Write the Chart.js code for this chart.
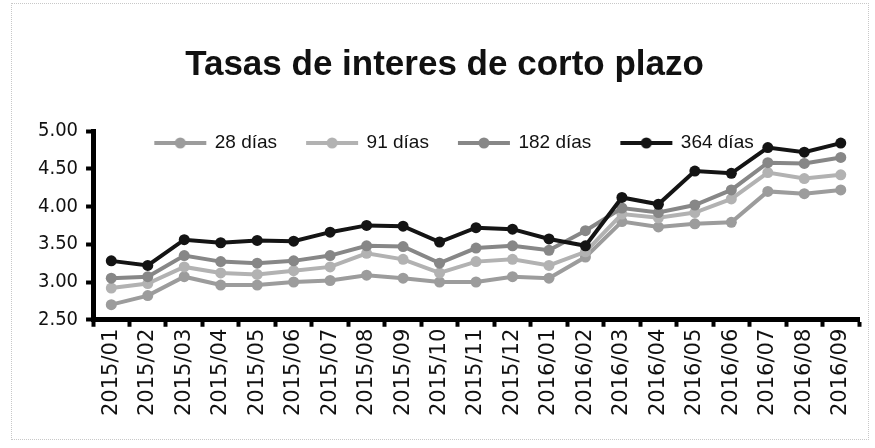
<!DOCTYPE html>
<html>
<head>
<meta charset="utf-8">
<script src="https://cdn.jsdelivr.net/npm/chart.js@4.4.1/dist/chart.umd.min.js"></script>
<style>
html,body{margin:0;padding:0;background:#fff;}
#wrap{position:relative;width:875px;height:448px;}
#frame{position:absolute;left:11px;top:3px;width:858px;height:437px;border:1px dotted #c8c8c8;box-sizing:border-box;pointer-events:none;}
canvas{display:block;}
</style>
</head>
<body>
<div id="wrap">
<canvas id="c" width="875" height="448"></canvas>
<div id="frame"></div>
</div>
<script>
const titleText = 'Tasas de interes de corto plazo';
const categories = ['2015/01','2015/02','2015/03','2015/04','2015/05','2015/06','2015/07','2015/08','2015/09','2015/10','2015/11','2015/12','2016/01','2016/02','2016/03','2016/04','2016/05','2016/06','2016/07','2016/08','2016/09'];
const seriesNames = ['28 días','91 días','182 días','364 días'];
const dias28  = [2.70,2.82,3.07,2.96,2.96,3.00,3.02,3.09,3.05,3.00,3.00,3.07,3.05,3.33,3.80,3.73,3.77,3.79,4.20,4.17,4.22];
const dias91  = [2.92,2.98,3.20,3.12,3.10,3.15,3.20,3.38,3.30,3.12,3.27,3.30,3.22,3.40,3.90,3.85,3.92,4.10,4.45,4.37,4.42];
const dias182 = [3.05,3.07,3.35,3.27,3.25,3.28,3.35,3.48,3.47,3.25,3.45,3.48,3.42,3.68,3.98,3.92,4.02,4.22,4.58,4.57,4.65];
const dias364 = [3.28,3.22,3.56,3.52,3.55,3.54,3.66,3.75,3.74,3.53,3.72,3.70,3.57,3.48,4.12,4.03,4.47,4.44,4.78,4.72,4.84];
const yTicks = [2.5,3.0,3.5,4.0,4.5,5.0];

const colors = ['#9c9c9c','#b2b2b2','#878787','#141414'];
const values = [dias28, dias91, dias182, dias364];

function legendIcon(color){
  const cv = document.createElement('canvas');
  cv.width = 80; cv.height = 14;
  const g = cv.getContext('2d');
  g.strokeStyle = color; g.lineWidth = 4;
  g.beginPath(); g.moveTo(24,7); g.lineTo(76,7); g.stroke();
  g.fillStyle = color;
  g.beginPath(); g.arc(50,7,5.5,0,Math.PI*2); g.fill();
  return cv;
}

const datasets = seriesNames.map((n,i)=>({
  label: n,
  data: values[i],
  borderColor: colors[i],
  backgroundColor: colors[i],
  borderWidth: 4,
  pointRadius: 5.5,
  pointHoverRadius: 5.5,
  pointBorderWidth: 0,
  pointStyle: 'circle',
  tension: 0,
  order: 3 - i
}));
const icons = colors.map(legendIcon);

const legendShift = {
  id: 'legendShift',
  afterLayout(chart){
    const lg = chart.legend;
    if (!lg) return;
    const pad = lg.options.labels.padding;
    const fs = lg.options.labels.font.size;
    const center = lg.top + pad + fs/2;
    const dy = (chart.chartArea.top + 12) - center;
    lg.top += dy; lg.bottom += dy;
    if (lg.legendHitBoxes) lg.legendHitBoxes.forEach(h=>{ h.top += dy; });
  }
};

new Chart(document.getElementById('c'), {
  type: 'line',
  data: { labels: categories, datasets },
  plugins: [legendShift],
  options: {
    responsive: false,
    animation: false,
    layout: { padding: { left: 30, right: 16, top: 0, bottom: 30 } },
    plugins: {
      tooltip: { enabled: false },
      title: {
        display: true,
        text: titleText,
        color: '#111',
        font: { family: "'Liberation Sans', Arial, sans-serif", size: 35, weight: 'bold' },
        padding: { top: 44, bottom: 6 }
      },
      legend: {
        position: 'top',
        align: 'center',
        labels: {
          usePointStyle: true,
          pointStyleWidth: 70,
          generateLabels(chart){
            return chart.data.datasets.map((d,i)=>({
              text: d.label,
              pointStyle: icons[i],
              fillStyle: d.borderColor,
              strokeStyle: d.borderColor,
              lineWidth: 0,
              fontColor: '#111',
              datasetIndex: i,
              hidden: false
            }));
          },
          color: '#111',
          font: { family: "'Liberation Sans', Arial, sans-serif", size: 19 },
          padding: 10,
          boxHeight: 14
        }
      }
    },
    scales: {
      x: {
        offset: true,
        grid: { offset: true, drawOnChartArea: false, drawTicks: true, tickLength: 7, tickWidth: 4, tickColor: '#000' },
        border: { display: true, color: '#000', width: 5 },
        ticks: {
          color: '#111',
          minRotation: 90, maxRotation: 90,
          autoSkip: false,
          padding: 2,
          font: { family: "'DejaVu Sans', Verdana, sans-serif", size: 21 }
        }
      },
      y: {
        min: 2.5, max: 5.0,
        afterBuildTicks(ax){ ax.ticks = yTicks.map(v=>({value:v})); },
        grid: { drawOnChartArea: false, drawTicks: true, tickLength: 7, tickWidth: 4, tickColor: '#000' },
        border: { display: true, color: '#000', width: 5 },
        ticks: {
          color: '#111',
          padding: 8,
          callback: v => Number(v).toFixed(2),
          font: { family: "'DejaVu Sans Condensed', 'DejaVu Sans', sans-serif", size: 20 }
        }
      }
    }
  }
});
</script>
</body>
</html>
